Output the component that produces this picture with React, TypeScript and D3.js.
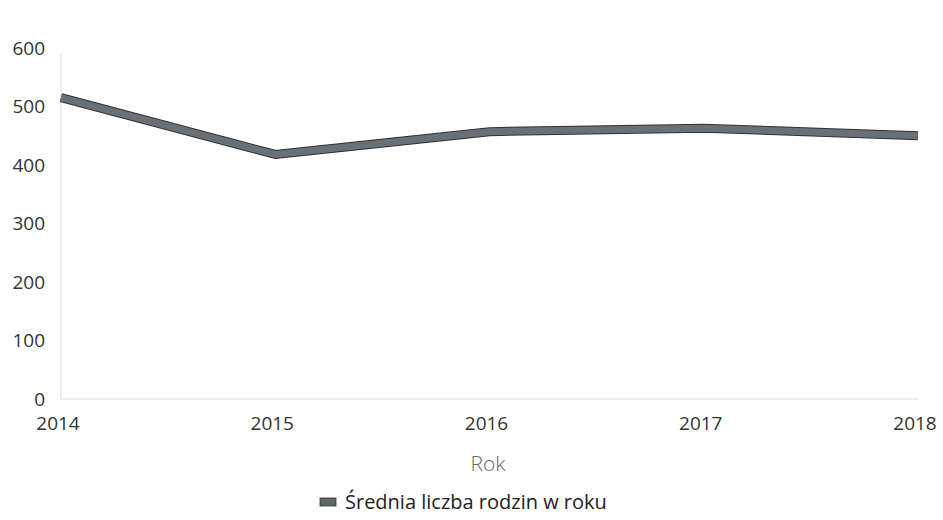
import React from "react";
import * as d3 from "d3";

const years = [2014, 2015, 2016, 2017, 2018];
const values = [515, 418, 457, 463, 450];
const yTicks = [0, 100, 200, 300, 400, 500, 600];
const seriesName = "Średnia liczba rodzin w roku";
const xTitle = "Rok";

export default function App() {
  const W = 943, H = 520;
  const x = d3.scaleLinear().domain([2014, 2018]).range([61, 918]);
  const y = d3.scaleLinear().domain([0, 600]).range([399, 48]);
  const line = d3.line<number>().x((_, i) => x(years[i])).y((d) => y(d));
  const font = "'Open Sans', sans-serif";
  return (
    <svg width={W} height={H} style={{ position: "absolute", left: 0, top: 0, background: "#fff" }} fontFamily={font}>
      <line x1={x(2014)} x2={x(2014)} y1={y(590)} y2={y(0)} stroke="#dcdcdc" strokeWidth={1} />
      <line x1={x(2014)} x2={x(2018)} y1={y(0)} y2={y(0)} stroke="#dcdcdc" strokeWidth={1} />
      {yTicks.map((t) => (
        <text key={t} x={45} y={y(t)} dy="0.35em" textAnchor="end" fontSize={19} fill="#333">
          {t}
        </text>
      ))}
      {years.map((yr) => (
        <text key={yr} x={x(yr) - 3} y={423} dy="0.35em" textAnchor="middle" fontSize={19} fill="#333">
          {yr}
        </text>
      ))}
      <text x={488} y={464} dy="0.35em" textAnchor="middle" fontSize={21} fill="#666" fontWeight={300}>
        {xTitle}
      </text>
      <path d={line(values) || ""} fill="none" stroke="#2f3336" strokeWidth={9} strokeLinejoin="round" />
      <path d={line(values) || ""} fill="none" stroke="#6a7176" strokeWidth={7} strokeLinejoin="round" />
      <rect x={320} y={498} width={16} height={8} fill="#5f666b" stroke="#333" strokeWidth={0.8} />
      <text x={345} y={502} dy="0.35em" fontSize={20} fill="#222">
        {seriesName}
      </text>
    </svg>
  );
}
